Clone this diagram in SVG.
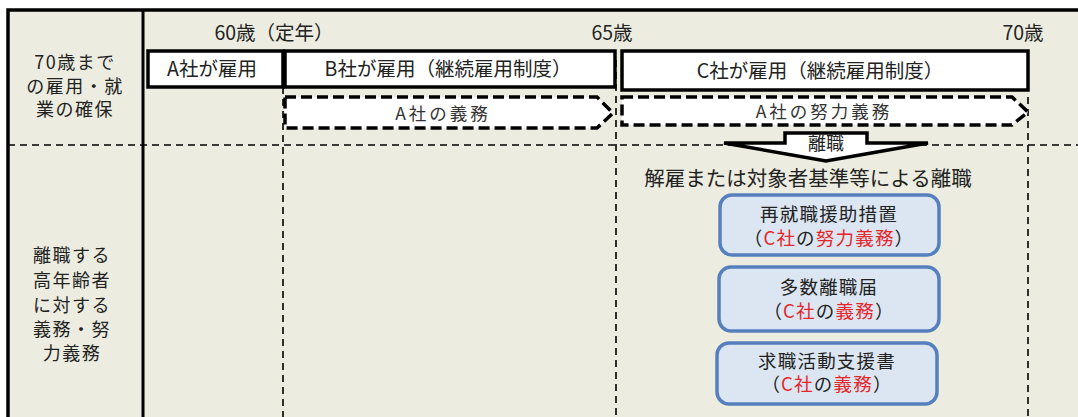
<svg xmlns="http://www.w3.org/2000/svg" width="1078" height="417" viewBox="0 0 1078 417">
<style>
text{font-family:"Noto Sans CJK JP","Noto Sans",sans-serif;fill:#222;}
.lab{font-size:18px;letter-spacing:1.5px;}
.age{font-size:19.5px;}
.bar{font-size:19.5px;}
.duty{font-size:17.5px;letter-spacing:3px;fill:#333;}
.cap{font-size:20.5px;}
.bx{font-size:18.5px;letter-spacing:1.2px;}
.red{fill:#e5262a;}
.box{fill:#fff;stroke:#000;stroke-width:3.5;}
.thin{fill:none;stroke:#000;stroke-width:1.6;stroke-dasharray:7 5;}
.thick{fill:#fff;stroke:#000;stroke-width:3.5;stroke-dasharray:11 5;}
.rbox{fill:#dce6f2;stroke:#5580bd;stroke-width:3.5;}
</style>
<rect x="0" y="0" width="1078" height="417" fill="#fff"/>
<rect x="8" y="10" width="1072" height="410" fill="#ecede0"/>
<g id="frame" fill="none" stroke="#000">
<path d="M8,420 V10 H1080" stroke-width="3.5"/>
<line x1="143" y1="10" x2="143" y2="417" stroke-width="3"/>
</g>
<g id="grid">
<line class="thin" x1="8" y1="145" x2="1078" y2="145"/>
<line class="thin" x1="283" y1="51" x2="283" y2="417"/>
<line class="thin" x1="616" y1="60" x2="616" y2="417"/>
<line class="thin" x1="1028" y1="97" x2="1028" y2="417"/>
</g>
<g id="row-labels">
<text class="lab" text-anchor="middle" x="75" y="69">70歳まで</text>
<text class="lab" text-anchor="middle" x="75" y="93">の雇用・就</text>
<text class="lab" text-anchor="middle" x="75" y="116">業の確保</text>
<text class="lab" text-anchor="middle" x="72" y="262">離職する</text>
<text class="lab" text-anchor="middle" x="72" y="287">高年齢者</text>
<text class="lab" text-anchor="middle" x="72" y="312">に対する</text>
<text class="lab" text-anchor="middle" x="72" y="336">義務・努</text>
<text class="lab" text-anchor="middle" x="72" y="360">力義務</text>
</g>
<g id="age-labels">
<text class="age" text-anchor="middle" x="274" y="40">60歳（定年）</text>
<text class="age" text-anchor="middle" x="612" y="40">65歳</text>
<text class="age" text-anchor="middle" x="1023" y="40">70歳</text>
</g>
<g id="a-employ">
<rect class="box" x="148" y="51" width="135" height="36"/>
<text class="bar" text-anchor="middle" x="212" y="76">A社が雇用</text>
</g>
<g id="b-employ">
<rect class="box" x="285" y="51" width="330" height="36"/>
<text class="bar" text-anchor="middle" x="448" y="76">B社が雇用（継続雇用制度）</text>
</g>
<g id="c-employ">
<rect class="box" x="622" y="51" width="406" height="39"/>
<text class="bar" text-anchor="middle" x="820" y="78">C社が雇用（継続雇用制度）</text>
</g>
<g id="a-duty">
<path class="thick" d="M285,97 H597 L613,113 L597,128 H285 Z"/>
<text class="duty" text-anchor="middle" x="443" y="120">A社の義務</text>
</g>
<g id="a-effort">
<path class="thick" d="M622,97 H1012 L1028,112 L1012,125 H622 Z"/>
<text class="duty" text-anchor="middle" x="824" y="118">A社の努力義務</text>
</g>
<g id="leave-arrow">
<path d="M785,133 H867 V143 H928 L826,161 L724,143 H785 Z" fill="#fff" stroke="#000" stroke-width="3.5" stroke-linejoin="miter"/>
<text class="lab" text-anchor="middle" x="826" y="150" style="letter-spacing:0">離職</text>
</g>
<g id="leave-caption">
<text class="cap" text-anchor="middle" x="808" y="186">解雇または対象者基準等による離職</text>
</g>
<g id="reemploy">
<rect class="rbox" x="720" y="195" width="219" height="60" rx="12"/>
<text class="bx" text-anchor="middle" x="829" y="221">再就職援助措置</text>
<text class="bx" text-anchor="middle" x="829" y="245">（<tspan class="red">C社</tspan>の<tspan class="red">努力義務</tspan>）</text>
</g>
<g id="mass-leave">
<rect class="rbox" x="719" y="267" width="220" height="64" rx="12"/>
<text class="bx" text-anchor="middle" x="829" y="294">多数離職届</text>
<text class="bx" text-anchor="middle" x="829" y="318">（<tspan class="red">C社</tspan>の<tspan class="red">義務</tspan>）</text>
</g>
<g id="job-support">
<rect class="rbox" x="717" y="343" width="220" height="61" rx="12"/>
<text class="bx" text-anchor="middle" x="827" y="368">求職活動支援書</text>
<text class="bx" text-anchor="middle" x="827" y="391">（<tspan class="red">C社</tspan>の<tspan class="red">義務</tspan>）</text>
</g>
</svg>
